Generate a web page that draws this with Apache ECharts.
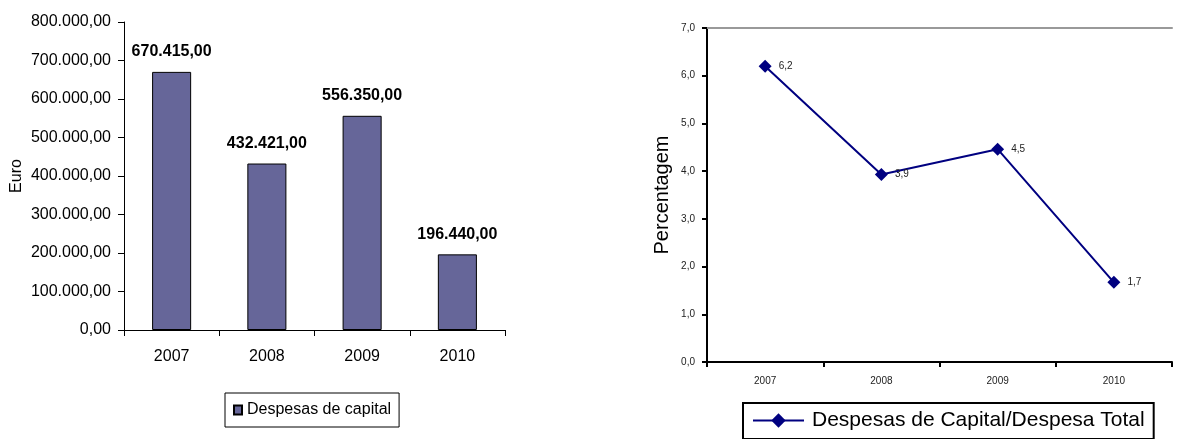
<!DOCTYPE html>
<html>
<head>
<meta charset="utf-8">
<script src="https://cdn.jsdelivr.net/npm/echarts@6/dist/echarts.min.js"></script>
<style>
html,body{margin:0;padding:0;background:#fff;}
#chart{width:1179px;height:439px;}
</style>
</head>
<body>
<div id="chart"></div>
<script>
const categories = ['2007', '2008', '2009', '2010'];
const capitalEuro = [670415, 432421, 556350, 196440];
const capitalShare = [6.2, 3.93, 4.46, 1.67];
const barSeriesName = 'Despesas de capital';
const lineSeriesName = 'Despesas de Capital/Despesa Total';

function fmtEuro(v) {
  const parts = Number(v).toFixed(2).split('.');
  const intPart = parts[0].replace(/\B(?=(\d{3})+(?!\d))/g, '.');
  return intPart + ',' + parts[1];
}
function fmtPct(v) {
  return Number(v).toFixed(1).replace('.', ',');
}

const FONT = '"Liberation Sans", Arial, sans-serif';
const chart = echarts.init(document.getElementById('chart'), null, {renderer: 'canvas'});
chart.setOption({
  animation: false,
  backgroundColor: '#fff',
  textStyle: {fontFamily: FONT},
  grid: [
    {left: 124, top: 22, width: 381, height: 308},
    {left: 707, top: 28, width: 465, height: 334}
  ],
  legend: [
    {
      data: [barSeriesName], left: 225, top: 393,
      borderColor: '#000', borderWidth: 1, padding: [9, 8, 9, 8],
      icon: 'rect', itemWidth: 8, itemHeight: 9,
      textStyle: {fontSize: 16, color: '#000', fontFamily: FONT}
    },
    {
      data: [lineSeriesName], left: 743, top: 403,
      borderColor: '#000', borderWidth: 2, padding: [7, 9, 8, 9],
      itemWidth: 51, itemHeight: 18,
      textStyle: {fontSize: 21, color: '#000', fontFamily: FONT, padding: [0, 0, 0, 3]}
    }
  ],
  xAxis: [
    {
      gridIndex: 0, type: 'category', data: categories,
      axisLine: {lineStyle: {color: '#000', width: 1}},
      axisTick: {show: true, length: 6, lineStyle: {color: '#000', width: 1}},
      axisLabel: {color: '#000', fontSize: 16, margin: 19, fontFamily: FONT}
    },
    {
      gridIndex: 1, type: 'category', data: categories,
      axisLine: {lineStyle: {color: '#000', width: 2}},
      axisTick: {show: true, length: 5, lineStyle: {color: '#000', width: 2}},
      axisLabel: {color: '#222', fontSize: 10, margin: 14, fontFamily: FONT}
    },
    {
      gridIndex: 1, type: 'category', data: categories, position: 'top',
      axisLine: {onZero: false, lineStyle: {color: '#999', width: 2}},
      axisTick: {show: false}, axisLabel: {show: false}
    }
  ],
  yAxis: [
    {
      gridIndex: 0, type: 'value', min: 0, max: 800000, interval: 100000,
      name: 'Euro', nameLocation: 'middle', nameGap: 99,
      nameTextStyle: {fontSize: 16, color: '#000', fontFamily: FONT},
      axisLine: {show: true, lineStyle: {color: '#000', width: 1}},
      axisTick: {show: true, length: 6, lineStyle: {color: '#000'}},
      splitLine: {show: false},
      axisLabel: {formatter: fmtEuro, fontSize: 16, color: '#000', margin: 13, fontFamily: FONT}
    },
    {
      gridIndex: 1, type: 'value', min: 0, max: 7, interval: 1,
      name: 'Percentagem', nameLocation: 'middle', nameGap: 35,
      nameTextStyle: {fontSize: 20, color: '#000', fontFamily: FONT},
      axisLine: {show: true, lineStyle: {color: '#000', width: 2}},
      axisTick: {show: true, length: 5, lineStyle: {color: '#000', width: 2}},
      splitLine: {show: false},
      axisLabel: {formatter: fmtPct, fontSize: 10, color: '#222', margin: 12, fontFamily: FONT}
    }
  ],
  series: [
    {
      name: barSeriesName, type: 'bar', xAxisIndex: 0, yAxisIndex: 0,
      data: capitalEuro, barWidth: '41%',
      itemStyle: {color: '#666699', borderColor: '#000', borderWidth: 1},
      label: {
        show: true, position: 'top', distance: 12,
        fontWeight: 'bold', fontSize: 16, color: '#000', fontFamily: FONT,
        formatter: p => fmtEuro(p.value)
      }
    },
    {
      name: lineSeriesName, type: 'line', xAxisIndex: 1, yAxisIndex: 1,
      data: capitalShare, symbol: 'diamond', symbolSize: 13,
      lineStyle: {color: '#000080', width: 2},
      itemStyle: {color: '#000080'},
      label: {
        show: true, position: 'right', distance: 7,
        fontSize: 10, color: '#222', fontFamily: FONT,
        formatter: p => fmtPct(p.value)
      }
    }
  ]
});
</script>
</body>
</html>
